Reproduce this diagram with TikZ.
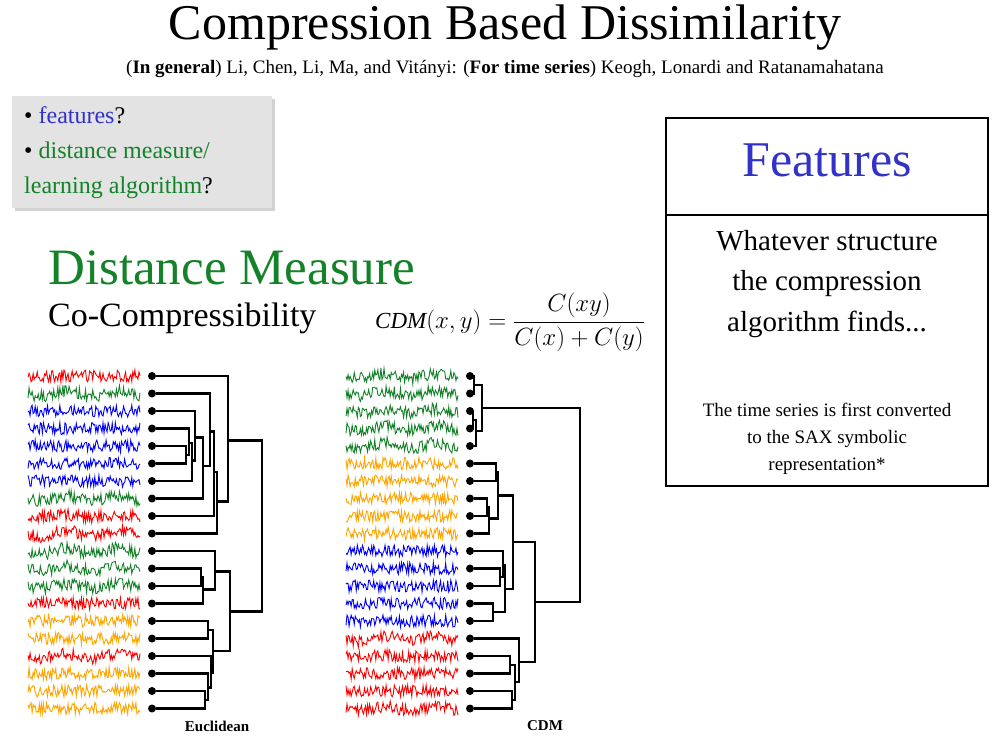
\documentclass[tikz,border=0pt]{standalone}
\usepackage{fontspec}
\setmainfont{Liberation Serif}
\usetikzlibrary{calc,shadows}
\definecolor{tblue}{RGB}{50,50,200}
\definecolor{tgreen}{RGB}{20,130,40}
\definecolor{tor}{RGB}{255,165,0}
\definecolor{tblu}{RGB}{0,0,255}
\tikzset{tree/.style={line width=2.4pt,line join=miter},
  leafdot/.style={circle,fill=black,inner sep=0pt,minimum size=8pt},
  txt/.style={inner sep=0pt,align=center}}
\newcommand\mrg[4]{%
  \coordinate (#4x) at (#3,0);
  \path (#1) -- (#2) coordinate[pos=0.5] (#4t);
  \coordinate (#4) at (#4t -| #4x);
  \draw[tree] (#1) -- (#1 -| #4) -- (#2 -| #4) -- (#2);}
\newcommand\tsr[4]{% color, x0, y, wave amplitude
  \draw[#1,line width=0.9pt] plot[domain=0:112,samples=110] ({#2+\x},{#3+#4*sin(\x*7)+6*rand});}
\begin{document}
\begin{tikzpicture}[x=1pt,y=-1pt]
\pgfmathsetseed{7}
\useasboundingbox (0,0) rectangle (998,738);
% title
\node[txt,font=\fontsize{50}{56}\selectfont] (title) at (505,28) {Compression Based Dissimilarity};
\node[txt,font=\fontsize{19}{22}\selectfont] (sub) at (505,69) {(\textbf{In general}) Li, Chen, Li, Ma, and Vitányi: (\textbf{For time series}) Keogh, Lonardi and Ratanamahatana};
% question box
\node[draw=none,fill=gray!22,minimum width=260pt,minimum height=112pt,drop shadow={shadow xshift=3pt,shadow yshift=-3pt,fill=gray!70},anchor=north west] (qbox) at (12,96) {};
\node[anchor=north west,align=left,inner sep=0pt,font=\fontsize{24}{35}\selectfont] (qtxt) at (24,106) {%
 • \textcolor{tblue}{features}?\\
 • \textcolor{tgreen}{distance measure/}\\
 \textcolor{tgreen}{learning algorithm}?};
% distance measure
\node[txt,anchor=west,text=tgreen,font=\fontsize{51}{56}\selectfont] (dm) at (48,268) {Distance Measure};
\node[txt,anchor=west,font=\fontsize{34}{38}\selectfont] (cc) at (48,318) {Co-Compressibility};
\node[txt,anchor=west,font=\fontsize{23}{26}\selectfont] (form) at (375,322) {$\mathit{CDM}(x,y)=\displaystyle\frac{C(xy)}{C(x)+C(y)}$};
% features box
\draw[line width=1.2pt] (666,118) rectangle (988,486);
\draw[line width=1.2pt] (666,215) -- (988,215);
\node[txt,text=tblue,font=\fontsize{50}{56}\selectfont] (feat) at (827,160) {Features};
\node[txt,font=\fontsize{29}{40.5}\selectfont] (what) at (827,284) {Whatever structure\\the compression\\algorithm finds...};
\node[txt,font=\fontsize{19}{27}\selectfont] (sax) at (827,439) {The time series is first converted\\to the SAX symbolic\\representation*};
% leaves
\foreach \i in {1,...,20}{
  \pgfmathsetmacro\yy{376+(\i-1)*17.5}
  \node[leafdot] (a\i) at (152,\yy) {};
  \node[leafdot] (r\i) at (470,\yy) {};
}
% time series
\foreach [count=\i] \c/\w in {red/0,tgreen/2.5,tblu/0,tblu/0,tblu/0,tblu/0,tblu/0,tgreen/2.5,red/1,red/3,tgreen/3,tgreen/2.5,tgreen/2,red/0,tor/0,tor/0,red/2,tor/1,tor/0,tor/0}{
  \pgfmathsetmacro\yy{376+(\i-1)*17.5}
  \tsr{\c}{28}{\yy}{\w}}
\foreach [count=\i] \c/\w in {tgreen/2.5,tgreen/2.5,tgreen/2,tgreen/2.5,tgreen/3,tor/0,tor/0,tor/0,tor/0,tor/1,tblu/0,tblu/0,tblu/0,tblu/0,tblu/0,red/3,red/1,red/0,red/0,red/2}{
  \pgfmathsetmacro\yy{376+(\i-1)*17.5}
  \tsr{\c}{346}{\yy}{\w}}
% left tree
\mrg{a5}{a6}{186}{bA}
\mrg{a4}{bA}{189}{bB}
\mrg{bB}{a7}{192}{bC}
\mrg{a3}{bC}{195}{bD}
\mrg{bD}{a8}{203}{gE}
\mrg{a2}{gE}{210}{gF}
\mrg{gF}{a9}{214}{gG}
\mrg{gG}{a10}{217}{gH}
\mrg{a1}{gH}{228}{top}
\mrg{a12}{a13}{201}{c1}
\mrg{c1}{a14}{203}{c2}
\mrg{a11}{c2}{215}{c3}
\mrg{a15}{a16}{208}{d1}
\mrg{a19}{a20}{205}{e1}
\mrg{a18}{e1}{208}{e2}
\mrg{a17}{e2}{211}{e3}
\mrg{d1}{e3}{213}{d2}
\mrg{c3}{d2}{230}{low}
\mrg{top}{low}{262}{rootL}
% right tree
\mrg{r1}{r2}{474}{g1}
\mrg{r3}{r4}{473}{g2}
\mrg{g2}{r5}{476}{g3}
\mrg{g1}{g3}{482}{g4}
\mrg{r8}{r9}{487}{o1}
\mrg{o1}{r10}{489}{o2}
\mrg{r6}{r7}{496}{o3}
\mrg{o3}{o2}{498}{o4}
\mrg{r12}{r13}{500}{b2}
\mrg{r11}{b2}{503}{b3}
\mrg{r14}{r15}{493}{b1}
\mrg{b3}{b1}{505}{b4}
\mrg{o4}{b4}{513}{ob}
\mrg{r17}{r18}{510}{rr1}
\mrg{r19}{r20}{512}{rr2}
\mrg{rr1}{rr2}{515}{rr3}
\mrg{r16}{rr3}{519}{rr4}
\mrg{ob}{rr4}{535}{obr}
\mrg{g4}{obr}{580}{rootR}
\node[txt,font=\fontsize{15}{17}\selectfont\bfseries] (eu) at (217,726) {Euclidean};
\node[txt,font=\fontsize{15}{17}\selectfont\bfseries] (cdm) at (545,726) {CDM};
\end{tikzpicture}
\end{document}
